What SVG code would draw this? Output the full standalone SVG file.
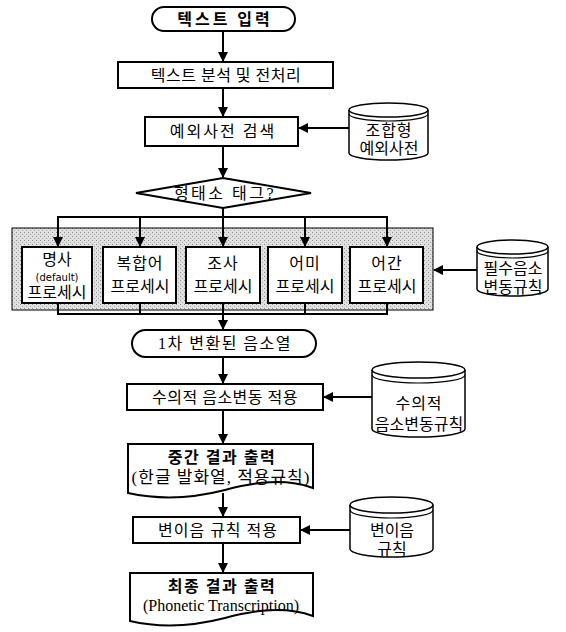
<svg xmlns="http://www.w3.org/2000/svg" width="566" height="632" viewBox="0 0 566 632">
<style>
.s{fill:#fff;stroke:#000;stroke-width:2}
.t{font-family:"Liberation Serif","Noto Sans CJK KR",serif;font-size:16px;fill:#000;text-anchor:middle}
.b{font-weight:bold}
.ln{fill:none;stroke:#000;stroke-width:2}
.cy{fill:#fff;stroke:#000;stroke-width:1.5}
.cl{fill:none;stroke:#000;stroke-width:1.2}
</style>
<defs>
<marker id="ah" markerWidth="10" markerHeight="10" refX="9" refY="5" orient="auto" markerUnits="userSpaceOnUse">
<path d="M0,0 L10,5 L0,10 Z" fill="#000"/>
</marker>
<pattern id="dots" width="4" height="4" patternUnits="userSpaceOnUse">
<rect width="4" height="4" fill="#e0e0e0"/>
<rect x="0" y="0" width="1" height="1" fill="#8f8f8f"/>
<rect x="2" y="2" width="1" height="1" fill="#a8a8a8"/>
</pattern>
</defs>
<rect width="566" height="632" fill="#fff"/>

<g id="panel">
<rect x="12" y="228" width="421" height="82" fill="url(#dots)" stroke="#000" stroke-width="1"/>
</g>

<g id="connectors">
<line class="ln" x1="223" y1="31" x2="223" y2="61" marker-end="url(#ah)"/>
<line class="ln" x1="223" y1="88" x2="223" y2="116" marker-end="url(#ah)"/>
<line class="ln" x1="349" y1="128" x2="299" y2="128" marker-end="url(#ah)"/>
<line class="ln" x1="223" y1="146" x2="223" y2="177" marker-end="url(#ah)"/>
<polyline class="ln" points="223,208 223,217"/>
<line class="ln" x1="57" y1="217" x2="388" y2="217"/>
<line class="ln" x1="58" y1="217" x2="58" y2="246" marker-end="url(#ah)"/>
<line class="ln" x1="140" y1="217" x2="140" y2="246" marker-end="url(#ah)"/>
<line class="ln" x1="223" y1="217" x2="223" y2="246" marker-end="url(#ah)"/>
<line class="ln" x1="305" y1="217" x2="305" y2="246" marker-end="url(#ah)"/>
<line class="ln" x1="387" y1="217" x2="387" y2="246" marker-end="url(#ah)"/>
<line class="ln" x1="58" y1="303" x2="58" y2="314"/>
<line class="ln" x1="140" y1="303" x2="140" y2="314"/>
<line class="ln" x1="305" y1="303" x2="305" y2="314"/>
<line class="ln" x1="387" y1="303" x2="387" y2="314"/>
<line class="ln" x1="57" y1="314" x2="388" y2="314"/>
<line class="ln" x1="223" y1="303" x2="223" y2="329" marker-end="url(#ah)"/>
<line class="ln" x1="477" y1="270" x2="434" y2="270" marker-end="url(#ah)"/>
<line class="ln" x1="223" y1="357" x2="223" y2="383" marker-end="url(#ah)"/>
<line class="ln" x1="372" y1="397" x2="324" y2="397" marker-end="url(#ah)"/>
<line class="ln" x1="223" y1="410" x2="223" y2="443" marker-end="url(#ah)"/>
<line class="ln" x1="223" y1="493" x2="223" y2="516" marker-end="url(#ah)"/>
<line class="ln" x1="350" y1="530" x2="301" y2="530" marker-end="url(#ah)"/>
<line class="ln" x1="223" y1="543" x2="223" y2="572" marker-end="url(#ah)"/>
</g>

<g id="start">
<rect class="s" x="152" y="7" width="143" height="24" rx="12"/>
<text class="t b" x="225" y="25" letter-spacing="3">텍스트 입력</text>
</g>

<g id="preprocess">
<rect class="s" x="118" y="62" width="215" height="26"/>
<text class="t" x="226" y="81" letter-spacing="0.5">텍스트 분석 및 전처리</text>
</g>

<g id="exception-search">
<rect class="s" x="145" y="117" width="153" height="29"/>
<text class="t" x="223" y="137" letter-spacing="2">예외사전 검색</text>
</g>

<g id="exception-dict">
<path class="cy" d="M349,110 V153 A39.5,7 0 0 0 428,153 V110"/>
<ellipse class="cy" cx="388.5" cy="110" rx="39.5" ry="7"/>
<path class="cl" d="M349,114 A39.5,7 0 0 0 428,114"/>
<text class="t" x="389" y="136" letter-spacing="1">조합형</text>
<text class="t" x="389" y="154">예외사전</text>
</g>

<g id="tag-decision">
<polygon class="s" points="136,193 223,178 311,193 223,208"/>
<text class="t" x="225" y="199" letter-spacing="2.5">형태소 태그?</text>
</g>

<g id="noun">
<rect class="s" x="22" y="247" width="70" height="56"/>
<text class="t" x="57" y="265">명사</text>
<text class="t" x="57" y="281" style="font-family:'DejaVu Sans',sans-serif;font-size:10px">(default)</text>
<text class="t" x="57" y="298">프로세시</text>
</g>

<g id="compound">
<rect class="s" x="103" y="247" width="73" height="56"/>
<text class="t" x="140" y="269" letter-spacing="1">복합어</text>
<text class="t" x="140" y="292">프로세시</text>
</g>

<g id="particle">
<rect class="s" x="186" y="247" width="74" height="56"/>
<text class="t" x="223" y="269" letter-spacing="1">조사</text>
<text class="t" x="223" y="292">프로세시</text>
</g>

<g id="ending">
<rect class="s" x="268" y="247" width="74" height="56"/>
<text class="t" x="305" y="269" letter-spacing="1">어미</text>
<text class="t" x="305" y="292">프로세시</text>
</g>

<g id="stem">
<rect class="s" x="350" y="247" width="73" height="56"/>
<text class="t" x="387" y="269" letter-spacing="1">어간</text>
<text class="t" x="387" y="292">프로세시</text>
</g>

<g id="mandatory-rules">
<path class="cy" d="M477,247 V289 A35.5,7 0 0 0 548,289 V247"/>
<ellipse class="cy" cx="512.5" cy="247" rx="35.5" ry="7"/>
<path class="cl" d="M477,251 A35.5,7 0 0 0 548,251"/>
<text class="t" x="513" y="274">필수음소</text>
<text class="t" x="513" y="293">변동규칙</text>
</g>

<g id="first-phonemes">
<rect class="s" x="132" y="330" width="184" height="27" rx="13.5"/>
<text class="t" x="225" y="349" letter-spacing="1.5">1차 변환된 음소열</text>
</g>

<g id="optional-apply">
<rect class="s" x="127" y="384" width="196" height="26"/>
<text class="t" x="225" y="403" letter-spacing="0.5">수의적 음소변동 적용</text>
</g>

<g id="optional-rules">
<path class="cy" d="M372,370 V429 A46.5,8 0 0 0 465,429 V370"/>
<ellipse class="cy" cx="418.5" cy="370" rx="46.5" ry="8"/>
<path class="cl" d="M372,375 A46.5,8 0 0 0 465,375"/>
<text class="t" x="419" y="409" letter-spacing="1">수의적</text>
<text class="t" x="419" y="430">음소변동규칙</text>
</g>

<g id="intermediate-output">
<path class="s" d="M128,444 H313 V488 C285,478 255,482 225,490 C190,499 160,500 128,493 Z"/>
<text class="t b" x="222" y="463" letter-spacing="1.5">중간 결과 출력</text>
<text class="t" x="221" y="483" style="font-size:17px" letter-spacing="1">(한글 발화열, 적용규칙)</text>
</g>

<g id="allophone-apply">
<rect class="s" x="133" y="517" width="167" height="26"/>
<text class="t" x="218" y="536" letter-spacing="1">변이음 규칙 적용</text>
</g>

<g id="allophone-rules">
<path class="cy" d="M350,505 V549 A41.5,8 0 0 0 433,549 V505"/>
<ellipse class="cy" cx="391.5" cy="505" rx="41.5" ry="8"/>
<path class="cl" d="M350,510 A41.5,8 0 0 0 433,510"/>
<text class="t" x="392" y="536">변이음</text>
<text class="t" x="392" y="555">규칙</text>
</g>

<g id="final-output">
<path class="s" d="M130,573 H313 V616 C285,606 255,610 225,618 C190,627 160,628 130,621 Z"/>
<text class="t b" x="222" y="592" letter-spacing="1.5">최종 결과 출력</text>
<text class="t" x="221" y="611">(Phonetic Transcription)</text>
</g>
</svg>
